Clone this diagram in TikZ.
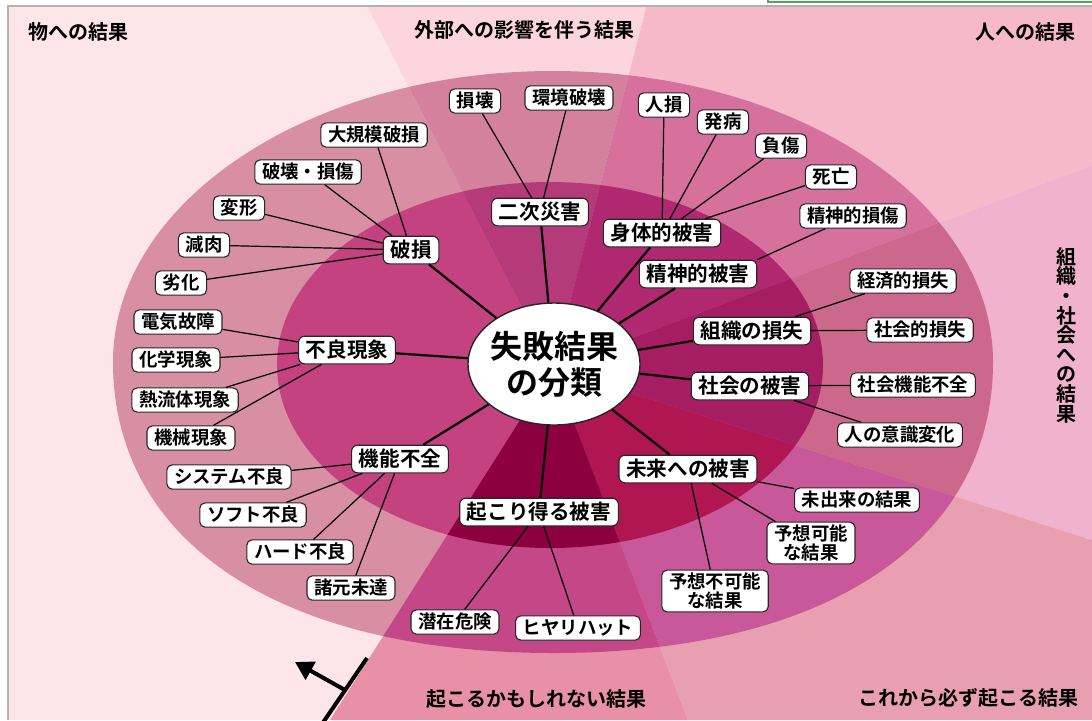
\documentclass[tikz,border=0pt]{standalone}
\usepackage{fontspec}
\setmainfont{Noto Sans CJK JP}[BoldFont={Noto Sans CJK JP Bold}]
\usetikzlibrary{arrows.meta,shapes.geometric}
\definecolor{bgA}{HTML}{FDE5E9}
\definecolor{bgB}{HTML}{FCD5DE}
\definecolor{bgC}{HTML}{F5B9CA}
\definecolor{bgD}{HTML}{F0B2CC}
\definecolor{bgE}{HTML}{E8A0B0}
\definecolor{bgF}{HTML}{E890A8}
\definecolor{rgA}{HTML}{D98FA3}
\definecolor{rgB}{HTML}{D4819D}
\definecolor{rgC}{HTML}{D6709C}
\definecolor{rgD}{HTML}{CC688C}
\definecolor{rgE}{HTML}{C8589A}
\definecolor{rgF}{HTML}{C44888}
\definecolor{inA}{HTML}{C44280}
\definecolor{inB}{HTML}{B43A7A}
\definecolor{inC}{HTML}{B02870}
\definecolor{inD}{HTML}{A51E64}
\definecolor{inE}{HTML}{B01652}
\definecolor{inF}{HTML}{8C0040}
\newcommand\fillsix[6]{%
  \fill[#1] (C) -- (b1) -- (0,0) -- (0,720) -- (b6) -- cycle;
  \fill[#2] (C) -- (b1) -- (b2) -- cycle;
  \fill[#3] (C) -- (b2) -- (1092,0) -- (b3) -- cycle;
  \fill[#4] (C) -- (b3) -- (b4) -- cycle;
  \fill[#5] (C) -- (b4) -- (1092,720) -- (b5) -- cycle;
  \fill[#6] (C) -- (b5) -- (b6) -- cycle;}
\begin{document}
\begin{tikzpicture}[x=0.5pt,y=-0.5pt,
  base/.style={draw=black!85, fill=white, line width=0.55pt, rounded corners=2.6pt},
  lab/.style={base, font=\bfseries\fontsize{9.2}{10}\selectfont, inner xsep=3.6pt, inner ysep=1.3pt, text height=7.9pt, text depth=1.6pt},
  labtwo/.style={base, align=center, font=\bfseries\fontsize{9.2}{9.8}\selectfont, inner xsep=3.6pt, inner ysep=1.2pt},
  cat/.style={base, rounded corners=3pt, font=\bfseries\fontsize{10.3}{11}\selectfont, inner xsep=3.6pt, inner ysep=1.6pt, text height=8.8pt, text depth=1.8pt},
  title/.style={font=\bfseries\fontsize{10}{11}\selectfont, inner sep=0pt},
  ln/.style={line width=0.6pt},
  lnc/.style={line width=1.1pt}]
\useasboundingbox (0,0) rectangle (1092,720);
\fill[white] (0,0) rectangle (1092,720);
\coordinate (C) at (553,368);
\coordinate (b1) at (364,0);
\coordinate (b2) at (648,0);
\coordinate (b3) at (1092,165);
\coordinate (b4) at (1092,540);
\coordinate (b5) at (688,720);
\coordinate (b6) at (330,720);
% background sectors
\begin{scope}
  \clip (8,6) rectangle (1092,720);
  \fillsix{bgA}{bgB}{bgC}{bgD}{bgE}{bgF}
\end{scope}
% outer ring (ellipse on top, fuller curve below)
\begin{scope}
  \clip (113,362) arc[start angle=180, end angle=0, x radius=220pt, y radius=145.5pt]
    .. controls (993,542) and (826,653) .. (553,653)
    .. controls (280,653) and (113,542) .. (113,362) -- cycle;
  \fillsix{rgA}{rgB}{rgC}{rgD}{rgE}{rgF}
\end{scope}
% middle ellipse
\begin{scope}
  \clip (550,365) ellipse [x radius=136.5pt, y radius=91.5pt];
  \fillsix{inA}{inB}{inC}{inD}{inE}{inF}
\end{scope}
% frame
\draw[gray!60, line width=0.8pt] (8,720) -- (8,6) -- (1092,6);
\draw[draw=green!25!gray, fill=green!8, line width=0.6pt] (768,-6) rectangle (1100,2);
% titles
\node[title] (t1) at (78,32) {物への結果};
\node[title] (t2) at (524,30) {外部への影響を伴う結果};
\node[title] (t3) at (1025,32) {人への結果};
\node[title, align=center, font=\bfseries\fontsize{10}{9.8}\selectfont] (t4) at (1066,335) {組\\織\\・\\社\\会\\へ\\の\\結\\果};
\node[title] (t5) at (968,698) {これから必ず起こる結果};
\node[title] (t6) at (536,699) {起こるかもしれない結果};
% center
\node[draw=black!85, fill=white, ellipse, line width=0.7pt, minimum width=86pt, minimum height=61pt, inner xsep=-2pt, inner ysep=0pt, align=center, font=\bfseries\fontsize{16}{18}\selectfont] (ctr) at (554,364) {失敗結果\\の分類};
% level 1
\node[cat] (hason) at (411,250) {破損};
\node[cat] (furyo) at (347,350) {不良現象};
\node[cat] (kinouf) at (400,459) {機能不全};
\node[cat] (niji) at (540,212) {二次災害};
\node[cat] (shintai) at (662,233) {身体的被害};
\node[cat] (seishin) at (698,274) {精神的被害};
\node[cat] (soshiki) at (752,331) {組織の損失};
\node[cat] (shakai) at (750,386) {社会の被害};
\node[cat] (mirai) at (688,469) {未来への被害};
\node[cat] (okori) at (539,512) {起こり得る被害};
% level 2
\node[lab] (son) at (475,101) {損壊};
\node[lab] (kankyo) at (569,98) {環境破壊};
\node[lab] (jinson) at (664,105) {人損};
\node[lab] (hatsu) at (723,122) {発病};
\node[lab] (fusho) at (781,146) {負傷};
\node[lab] (shibo) at (831,177) {死亡};
\node[lab] (seisonsho) at (853,216) {精神的損傷};
\node[lab] (daikibo) at (374,135) {大規模破損};
\node[lab] (hakai) at (308,172) {破壊・損傷};
\node[lab] (henkei) at (239,208) {変形};
\node[lab] (genniku) at (204,245) {減肉};
\node[lab] (rekka) at (181,283) {劣化};
\node[lab] (denki) at (178,322) {電気故障};
\node[lab] (kagaku) at (176,360) {化学現象};
\node[lab] (netsu) at (185,400) {熱流体現象};
\node[lab] (kikai) at (191,438) {機械現象};
\node[lab] (system) at (229,477) {システム不良};
\node[lab] (soft) at (253,515) {ソフト不良};
\node[lab] (hard) at (300,552) {ハード不良};
\node[lab] (shogen) at (351,588) {諸元未達};
\node[lab] (keizai) at (903,281) {経済的損失};
\node[lab] (shakaiteki) at (920,330) {社会的損失};
\node[lab] (kinoufz) at (913,385) {社会機能不全};
\node[lab] (ishiki) at (900,435) {人の意識変化};
\node[lab] (midekita) at (857,500) {未出来の結果};
\node[labtwo] (kanou) at (811,543) {予想可能\\な結果};
\node[labtwo] (fukanou) at (715,591) {予想不可能\\な結果};
\node[lab] (senzai) at (455,622) {潜在危険};
\node[lab] (hiyari) at (578,628) {ヒヤリハット};
% connectors from center
\foreach \n in {hason,furyo,kinouf,niji,shintai,seishin,soshiki,shakai,mirai,okori}
  \draw[lnc] (ctr) -- (\n);
% connectors to level 2
\foreach \n in {daikibo,hakai,henkei,genniku,rekka} \draw[ln] (hason) -- (\n);
\foreach \n in {son,kankyo} \draw[ln] (niji) -- (\n);
\foreach \n in {jinson,hatsu,fusho,shibo} \draw[ln] (shintai) -- (\n);
\draw[ln] (seishin.north east) -- (seisonsho);
\foreach \n in {keizai,shakaiteki} \draw[ln] (soshiki) -- (\n);
\foreach \n in {kinoufz,ishiki} \draw[ln] (shakai) -- (\n);
\foreach \n in {midekita,kanou,fukanou} \draw[ln] (mirai) -- (\n);
\foreach \n in {senzai,hiyari} \draw[ln] (okori) -- (\n);
\foreach \n in {system,soft,hard,shogen} \draw[ln] (kinouf) -- (\n);
\foreach \n in {denki,kagaku,netsu,kikai} \draw[ln] (furyo) -- (\n);
% arrow mark
\coordinate (ar1) at (322,724);
\coordinate (ar2) at (367,658);
\coordinate (ar3) at (345,690);
\coordinate (ar4) at (295,662);
\draw[line width=2pt] (ar1) -- (ar2);
\draw[line width=2pt, -{Triangle[length=9pt,width=10pt]}] (ar3) -- (ar4);
\end{tikzpicture}
\end{document}
